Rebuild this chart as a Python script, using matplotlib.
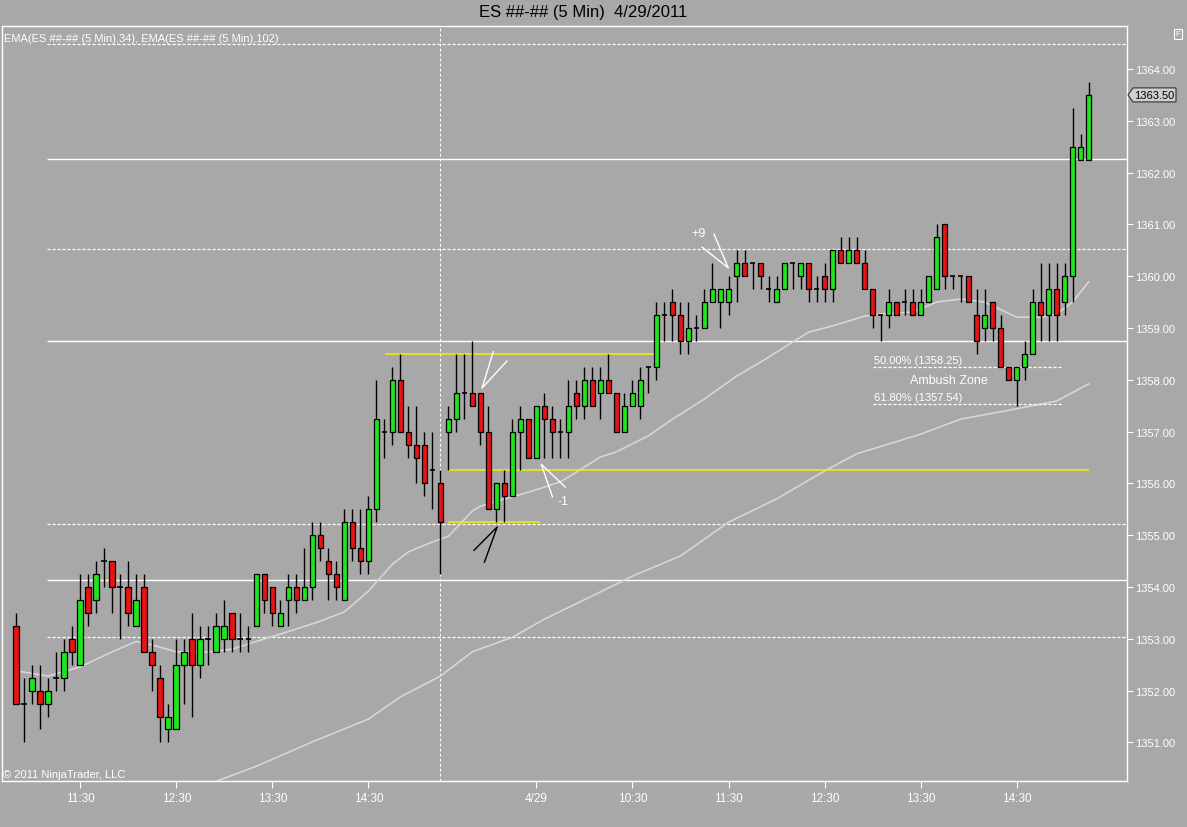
import matplotlib
matplotlib.use('Agg')
import matplotlib.pyplot as plt
from matplotlib.patches import Rectangle, Polygon
import pandas as pd

plt.rcParams['font.family'] = ['Liberation Sans', 'DejaVu Sans']

# 5 min bars, 4/28 10:50-15:15 and 4/29 08:35-15:15
times = list(pd.date_range('2011-04-28 10:50', '2011-04-28 15:15', freq='5min')) + \
        list(pd.date_range('2011-04-29 08:35', '2011-04-29 15:15', freq='5min'))

opens = [1353.25, 1351.75, 1352.0, 1352.0, 1351.75, 1352.25, 1352.25, 1353.0, 1352.5, 1354.0,
         1353.75, 1354.5, 1354.5, 1354.0, 1354.0, 1353.25, 1354.0, 1352.75, 1352.25, 1351.25,
         1351.25, 1352.5, 1353.0, 1352.5, 1353.0, 1352.75, 1353.0, 1353.5, 1353.0, 1353.0,
         1353.25, 1354.25, 1354.0, 1353.25, 1353.75, 1354.0, 1353.75, 1354.0, 1355.0, 1354.5,
         1354.25, 1353.75, 1355.25, 1354.75, 1354.5, 1355.5, 1357.0, 1357.0, 1358.0, 1357.0,
         1356.75, 1356.75, 1356.25, 1356.0,
         1357.0, 1357.25, 1357.75, 1357.75, 1357.75, 1357.0, 1355.5, 1356.0, 1355.75, 1357.0,
         1357.25, 1356.5, 1357.5, 1357.25, 1357.0, 1357.0, 1357.75, 1357.5, 1358.0, 1357.75,
         1358.0, 1357.75, 1357.0, 1357.5, 1357.5, 1358.25, 1358.25, 1359.25, 1359.5, 1359.25,
         1358.75, 1359.0, 1359.0, 1359.5, 1359.5, 1359.5, 1360.0, 1360.25, 1360.25, 1360.25,
         1359.75, 1359.5, 1359.75, 1360.25, 1360.0, 1360.25, 1359.75, 1360.0, 1359.75, 1360.5,
         1360.25, 1360.5, 1360.25, 1359.75, 1359.25, 1359.25, 1359.5, 1359.5, 1359.5, 1359.25,
         1359.5, 1359.75, 1361.0, 1360.0, 1360.0, 1360.0, 1359.25, 1359.0, 1359.5, 1359.0,
         1358.25, 1358.0, 1358.25, 1358.5, 1359.5, 1359.25, 1359.75, 1359.5, 1360.0, 1362.25,
         1362.25]
highs = [1353.5, 1352.25, 1352.5, 1352.5, 1352.25, 1352.75, 1353.0, 1353.25, 1354.25, 1354.25,
         1354.5, 1354.75, 1354.5, 1354.25, 1354.5, 1354.25, 1354.25, 1353.0, 1352.5, 1351.75,
         1353.0, 1353.0, 1353.5, 1353.25, 1353.25, 1353.5, 1353.75, 1353.5, 1353.5, 1353.25,
         1354.25, 1354.25, 1354.0, 1353.75, 1354.25, 1354.25, 1354.75, 1355.25, 1355.25, 1354.75,
         1354.5, 1355.5, 1355.5, 1355.5, 1355.75, 1358.0, 1357.25, 1358.25, 1358.5, 1357.5,
         1357.5, 1357.0, 1357.0, 1356.25,
         1357.5, 1358.5, 1358.5, 1358.75, 1357.75, 1357.5, 1356.0, 1356.25, 1357.25, 1357.5,
         1357.25, 1357.5, 1357.75, 1357.5, 1357.25, 1358.0, 1358.0, 1358.25, 1358.25, 1358.25,
         1358.5, 1357.75, 1357.75, 1358.0, 1358.25, 1358.25, 1359.5, 1359.5, 1359.75, 1359.5,
         1359.5, 1359.25, 1359.75, 1360.25, 1359.75, 1360.0, 1360.5, 1360.5, 1360.25, 1360.25,
         1360.0, 1360.0, 1360.25, 1360.25, 1360.25, 1360.25, 1360.0, 1360.25, 1360.5, 1360.75,
         1360.75, 1360.75, 1360.5, 1359.75, 1359.25, 1359.75, 1359.5, 1359.75, 1359.75, 1359.75,
         1360.0, 1361.0, 1361.0, 1360.0, 1360.0, 1360.0, 1359.75, 1359.75, 1359.5, 1359.25,
         1358.25, 1358.25, 1358.75, 1359.75, 1360.25, 1360.25, 1360.25, 1360.25, 1363.25, 1362.75,
         1363.75]
lows = [1351.75, 1351.0, 1351.75, 1351.25, 1351.5, 1352.0, 1352.0, 1352.5, 1352.5, 1353.25,
        1353.5, 1354.0, 1353.5, 1353.0, 1353.25, 1353.25, 1352.75, 1352.0, 1351.0, 1351.0,
        1351.25, 1351.75, 1351.5, 1352.25, 1352.5, 1352.75, 1352.75, 1352.75, 1352.75, 1352.75,
        1353.25, 1353.5, 1353.25, 1353.25, 1353.25, 1353.5, 1353.75, 1353.75, 1354.5, 1353.75,
        1353.75, 1353.75, 1354.5, 1354.25, 1354.25, 1355.25, 1356.5, 1356.75, 1357.0, 1356.5,
        1356.0, 1355.75, 1355.5, 1354.25,
        1356.25, 1357.0, 1357.25, 1357.5, 1356.75, 1355.5, 1355.25, 1355.25, 1355.75, 1356.25,
        1356.5, 1356.5, 1356.5, 1356.5, 1356.5, 1356.5, 1357.25, 1357.25, 1357.5, 1357.25,
        1357.75, 1357.0, 1357.0, 1357.5, 1357.25, 1357.75, 1358.0, 1358.75, 1358.75, 1358.5,
        1358.5, 1358.75, 1359.0, 1359.5, 1359.0, 1359.25, 1359.5, 1360.0, 1359.75, 1359.75,
        1359.5, 1359.5, 1359.75, 1359.75, 1359.75, 1359.5, 1359.5, 1359.5, 1359.5, 1360.25,
        1360.25, 1360.25, 1359.75, 1359.0, 1358.75, 1359.0, 1359.25, 1359.25, 1359.25, 1359.25,
        1359.5, 1359.75, 1359.75, 1359.75, 1359.5, 1359.5, 1358.5, 1358.75, 1358.75, 1358.25,
        1358.0, 1357.5, 1358.0, 1358.5, 1358.75, 1358.75, 1358.75, 1359.25, 1359.5, 1362.25,
        1362.25]
closes = [1351.75, 1351.75, 1352.25, 1351.75, 1352.0, 1352.25, 1352.75, 1352.75, 1353.75, 1353.5,
          1354.25, 1354.5, 1354.0, 1354.0, 1353.5, 1353.75, 1352.75, 1352.5, 1351.5, 1351.5,
          1352.5, 1352.75, 1352.5, 1353.0, 1353.0, 1353.25, 1353.25, 1353.0, 1353.0, 1353.0,
          1354.25, 1353.75, 1353.5, 1353.5, 1354.0, 1353.75, 1354.0, 1355.0, 1354.75, 1354.25,
          1354.0, 1355.25, 1354.75, 1354.5, 1355.5, 1357.25, 1357.0, 1358.0, 1357.0, 1356.75,
          1356.5, 1356.0, 1356.25, 1355.25,
          1357.25, 1357.75, 1357.75, 1357.5, 1357.0, 1355.5, 1356.0, 1355.75, 1357.0, 1357.25,
          1356.5, 1357.5, 1357.25, 1357.0, 1357.0, 1357.5, 1357.5, 1358.0, 1357.5, 1358.0,
          1357.75, 1357.0, 1357.5, 1357.75, 1358.0, 1358.25, 1359.25, 1359.25, 1359.25, 1358.75,
          1359.0, 1359.0, 1359.5, 1359.75, 1359.75, 1359.75, 1360.25, 1360.0, 1360.25, 1360.0,
          1359.75, 1359.75, 1360.25, 1360.25, 1360.25, 1359.75, 1359.75, 1359.75, 1360.5, 1360.25,
          1360.5, 1360.25, 1359.75, 1359.25, 1359.25, 1359.5, 1359.25, 1359.5, 1359.25, 1359.5,
          1360.0, 1360.75, 1360.0, 1360.0, 1360.0, 1359.5, 1358.75, 1359.25, 1359.0, 1358.25,
          1358.0, 1358.25, 1358.5, 1359.5, 1359.25, 1359.75, 1359.25, 1360.0, 1362.5, 1362.5,
          1363.5]

# EMA lines (bar index, value)
ema34_bar = [0, 4, 8, 12, 15, 17, 20, 23, 27, 30, 34, 38, 41, 44, 47, 49, 52, 54, 57, 58,
             61, 64, 68, 70, 73, 75, 79, 82, 86, 90, 93, 96, 99, 102, 106, 108, 112, 115, 118,
             121, 125, 128, 130, 132, 134]
ema34_val = [1352.38, 1352.28, 1352.46, 1352.75, 1352.95, 1352.88, 1352.75, 1352.73, 1352.80,
             1352.95, 1353.14, 1353.34, 1353.52, 1353.92, 1354.44, 1354.68, 1354.87, 1354.98,
             1355.47, 1355.56, 1355.70, 1355.83, 1356.03, 1356.22, 1356.51, 1356.61, 1356.92,
             1357.24, 1357.63, 1358.07, 1358.34, 1358.63, 1358.92, 1359.04, 1359.23, 1359.27,
             1359.31, 1359.50, 1359.56, 1359.50, 1359.21, 1359.21, 1359.27, 1359.50, 1359.89]
ema102_bar = [25, 30, 37, 44, 48, 53, 57, 62, 66, 72, 77, 83, 89, 95, 101, 105, 113, 118,
              125, 130, 134]
ema102_val = [1350.25, 1350.54, 1351.01, 1351.45, 1351.88, 1352.28, 1352.75, 1353.03, 1353.38,
              1353.83, 1354.21, 1354.60, 1355.25, 1355.70, 1356.24, 1356.57, 1356.95, 1357.24,
              1357.44, 1357.59, 1357.92]

solid_levels = [1362.27, 1358.75, 1354.13]
dashed_levels = [1364.48, 1360.53, 1355.22, 1353.03]
level_start = 3.85

# yellow drawn lines: (price, from bar, to bar)
yellow_lines = [(1358.5, 46.1, 79.8), (1356.25, 54, 134), (1355.25, 54, 65.5)]

ambush_levels = [1358.25, 1357.54]
ambush_labels = ['50.00% (1358.25)', '61.80% (1357.54)']
ambush_from, ambush_to = 107.0, 130.7

# hand drawn arrows: tip, then the two tails (bar, price)
white_arrows = [((88.97, 1360.16), (87.2, 1360.81), (85.7, 1360.56)),
                ((58.2, 1357.84), (59.6, 1358.54), (61.3, 1358.36)),
                ((65.6, 1356.37), (67.0, 1355.74), (68.6, 1355.93))]
black_arrow = ((60.1, 1355.16), (57.2, 1354.71), (58.5, 1354.48))

BG = '#a8a8a8'
UP = '#1ee61e'
DOWN = '#e61414'
W, H = 1187, 828

fig = plt.figure(figsize=(W / 100, H / 100), dpi=100, facecolor=BG)
ax = fig.add_axes([2 / W, 1 - 782 / H, 1125 / W, 755 / H], facecolor=BG)
xmin, xmax = -1.79, 138.8
ax.set_xlim(xmin, xmax)
ax.set_ylim(1350.255, 1364.83)

# levels
for lv in solid_levels:
    ax.hlines(lv, level_start, xmax, colors='white', lw=1.0, zorder=1)
for lv in dashed_levels:
    ax.hlines(lv, level_start, xmax, colors='white', lw=0.9, linestyles=(0, (2.5, 1.5)), zorder=1)

# session break
ax.axvline(53, color='white', lw=0.8, ls=(0, (2.5, 2)), zorder=1)

# EMAs
ax.plot(ema34_bar, ema34_val, color='#d6d6d6', lw=1.2, zorder=2)
ax.plot(ema102_bar, ema102_val, color='#d6d6d6', lw=1.2, zorder=2)

# yellow lines
for p, a, b in yellow_lines:
    ax.hlines(p, a, b, colors='#f0f000', lw=1.1, zorder=3)

# candles
bw = 0.72
for i, (o, h, l, c) in enumerate(zip(opens, highs, lows, closes)):
    ax.vlines(i, l, h, colors='black', lw=1.0, zorder=4)
    if o == c:
        ax.hlines(o, i - bw / 2, i + bw / 2, colors='black', lw=1.2, zorder=5)
    else:
        col = UP if c > o else DOWN
        ax.add_patch(Rectangle((i - bw / 2, min(o, c)), bw, abs(c - o),
                               facecolor=col, edgecolor='black', lw=0.9, zorder=5))

# ambush zone
for lv, lab in zip(ambush_levels, ambush_labels):
    ax.hlines(lv, ambush_from, ambush_to, colors='white', lw=0.9,
              linestyles=(0, (2.5, 1.5)), zorder=3)
    ax.text(ambush_from + 0.2, lv + 0.03, lab, color='white', fontsize=8,
            ha='left', va='bottom', zorder=6)
ax.text(116.6, 1358.0, 'Ambush Zone', color='white', fontsize=9,
        ha='center', va='center', zorder=6)

# arrows and notes
for tip, t1, t2 in white_arrows:
    ax.plot([t1[0], tip[0], t2[0]], [t1[1], tip[1], t2[1]], color='white', lw=1.0, zorder=6)
tip, t1, t2 = black_arrow
ax.plot([t1[0], tip[0], t2[0]], [t1[1], tip[1], t2[1]], color='black', lw=1.0, zorder=6)
ax.text(85.2, 1360.83, '+9', color='white', fontsize=9, ha='center', va='center', zorder=6)
ax.text(68.3, 1355.66, '-1', color='white', fontsize=9, ha='center', va='center', zorder=6)

# axes
for s in ['top', 'bottom', 'right', 'left']:
    ax.spines[s].set_color('white')
    ax.spines[s].set_linewidth(1.0)
ax.yaxis.tick_right()
ax.set_yticks(range(1351, 1365))
ax.set_yticklabels(['%.2f' % v for v in range(1351, 1365)])
ax.tick_params(axis='y', colors='white', labelsize=8, length=4, pad=2, width=0.8)

tick_pos, tick_lab = [], []
last_day = None
for i, t in enumerate(times):
    if t.minute == 30:
        if last_day is not None and t.day != last_day:
            tick_lab.append('%d/%d' % (t.month, t.day))
        else:
            tick_lab.append(t.strftime('%H:%M'))
        tick_pos.append(i)
        last_day = t.day
ax.set_xticks(tick_pos)
ax.set_xticklabels(tick_lab)
ax.tick_params(axis='x', colors='white', labelsize=8.5, length=5, pad=3, width=0.8)

# last price marker
fig.canvas.draw()
px, py = ax.transData.transform((xmax, closes[-1]))
py = H - py
mk = [(1128, py), (1133, py - 7), (1176, py - 7), (1176, py + 7), (1133, py + 7)]
fig.patches.append(Polygon([(x / W, 1 - y / H) for x, y in mk], closed=True,
                           transform=fig.transFigure, facecolor='#cfcfcf',
                           edgecolor='#333333', lw=0.8))
fig.text(1154 / W, 1 - py / H, '%.2f' % closes[-1], fontsize=8, color='black',
         ha='center', va='center')

fig.text(583 / W, 1 - 12 / H, 'ES ##-## (5 Min)  4/29/2011', fontsize=12,
         color='black', ha='center', va='center')
fig.text(4 / W, 1 - 39 / H, 'EMA(ES ##-## (5 Min),34), EMA(ES ##-## (5 Min),102)',
         fontsize=8, color='white', ha='left', va='center')
fig.text(3 / W, 1 - 775 / H, '\u00a9 2011 NinjaTrader, LLC', fontsize=8,
         color='white', ha='left', va='center')
fig.text(1178 / W, 1 - 35 / H, 'F', fontsize=6, color='white', ha='center', va='center',
         bbox=dict(boxstyle='square,pad=0.2', fc=BG, ec='white', lw=0.8))

fig.savefig('out.png', dpi=100, facecolor=BG)
